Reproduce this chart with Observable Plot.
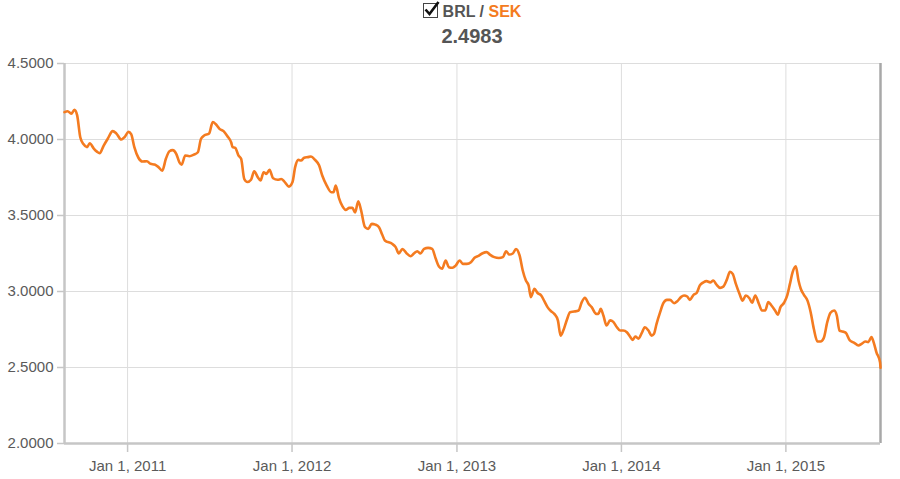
<!DOCTYPE html>
<html>
<head>
<meta charset="utf-8">
<script src="https://cdn.jsdelivr.net/npm/d3@7"></script>
<script src="https://cdn.jsdelivr.net/npm/@observablehq/plot@0.6"></script>
<style>
  html, body { margin: 0; padding: 0; background: #fff; }
  body { width: 900px; height: 479px; overflow: hidden; font-family: "Liberation Sans", Arial, sans-serif; }
  #header { position: relative; height: 55px; width: 900px; }
  #title { position: absolute; left: 0; width: 944px; top: 3px; text-align: center; font-weight: bold; font-size: 16px; color: #555; line-height: 18px; }
  #value { position: absolute; left: 0; width: 944px; top: 25px; text-align: center; font-weight: bold; font-size: 20px; color: #555; line-height: 22px; }
  .box { display: inline-block; width: 13px; height: 13px; border: 1.5px solid #444; vertical-align: -1px; margin-right: 5px; position: relative; }
  .box svg { position: absolute; left: -1px; top: -4px; }
  .sek { color: #f47b20; }
</style>
</head>
<body>
<div id="header">
  <div id="title"><span class="box"><svg width="18" height="18" viewBox="0 0 18 18"><path d="M2.5 9.5 L6.5 14 L15.5 2" fill="none" stroke="#111" stroke-width="2.6"/></svg></span>BRL / <span class="sek">SEK</span></div>
  <div id="value">2.4983</div>
</div>
<div id="chart"></div>
<script>
const dates = [
"2010-08-14","2010-08-21","2010-08-29","2010-09-05","2010-09-11","2010-09-18","2010-09-25","2010-10-03","2010-10-09","2010-10-18",
"2010-10-25","2010-10-31","2010-11-09","2010-11-18","2010-11-29","2010-12-07","2010-12-18","2010-12-25","2011-01-03","2011-01-09",
"2011-01-16","2011-01-25","2011-02-03","2011-02-13","2011-02-21","2011-03-02","2011-03-10","2011-03-19","2011-03-27","2011-04-04",
"2011-04-11","2011-04-19","2011-04-26","2011-05-01","2011-05-09","2011-05-18","2011-05-28","2011-06-06","2011-06-13","2011-06-20",
"2011-07-01","2011-07-09","2011-07-16","2011-07-24","2011-08-02","2011-08-11","2011-08-19","2011-08-22","2011-08-28","2011-09-04",
"2011-09-10","2011-09-17","2011-09-24","2011-10-02","2011-10-09","2011-10-17","2011-10-23","2011-10-30","2011-11-05","2011-11-12",
"2011-11-20","2011-11-30","2011-12-08","2011-12-15","2011-12-25","2012-01-02","2012-01-08","2012-01-15","2012-01-21","2012-01-28",
"2012-02-05","2012-02-12","2012-02-21","2012-03-01","2012-03-08","2012-03-18","2012-03-28","2012-04-02","2012-04-07","2012-04-14",
"2012-04-22","2012-04-29","2012-05-07","2012-05-14","2012-05-20","2012-05-27","2012-06-02","2012-06-11","2012-06-18","2012-06-26",
"2012-07-04","2012-07-12","2012-07-19","2012-07-25","2012-08-10","2012-08-18","2012-08-25","2012-09-02","2012-09-11","2012-09-20",
"2012-09-28","2012-10-05","2012-10-12","2012-10-20","2012-10-29","2012-11-07","2012-11-15","2012-11-22","2012-11-29","2012-12-07",
"2012-12-14","2012-12-22","2012-12-29","2013-01-07","2013-01-14","2013-01-23","2013-02-01","2013-02-09","2013-02-18","2013-02-27",
"2013-03-08","2013-03-15","2013-03-25","2013-04-04","2013-04-13","2013-04-20","2013-04-27","2013-05-05","2013-05-12","2013-05-20",
"2013-05-27","2013-06-03","2013-06-09","2013-06-14","2013-06-22","2013-06-29","2013-07-07","2013-07-14","2013-07-21","2013-07-29",
"2013-08-05","2013-08-13","2013-08-19","2013-08-25","2013-09-02","2013-09-09","2013-09-18","2013-09-28","2013-10-05","2013-10-12",
"2013-10-20","2013-10-27","2013-11-06","2013-11-11","2013-11-16","2013-11-22","2013-11-29","2013-12-07","2013-12-14","2013-12-22",
"2013-12-29","2014-01-05","2014-01-13","2014-01-20","2014-01-26","2014-02-01","2014-02-08","2014-02-15","2014-02-22","2014-03-02",
"2014-03-09","2014-03-14","2014-03-20","2014-03-28","2014-04-04","2014-04-12","2014-04-19","2014-04-28","2014-05-05","2014-05-13",
"2014-05-20","2014-05-27","2014-06-02","2014-06-10","2014-06-17","2014-06-24","2014-07-02","2014-07-09","2014-07-17","2014-07-24",
"2014-07-31","2014-08-08","2014-08-15","2014-08-23","2014-08-30","2014-09-05","2014-09-12","2014-09-20","2014-09-27","2014-10-04",
"2014-10-12","2014-10-18","2014-10-25","2014-11-02","2014-11-09","2014-11-16","2014-11-23","2014-11-30","2014-12-08","2014-12-14",
"2014-12-20","2014-12-28","2015-01-04","2015-01-10","2015-01-16","2015-01-23","2015-01-29","2015-02-03","2015-02-10","2015-02-18",
"2015-02-25","2015-03-04","2015-03-12","2015-03-19","2015-03-26","2015-04-03","2015-04-10","2015-04-18","2015-04-24","2015-04-30",
"2015-05-07","2015-05-14","2015-05-23","2015-06-01","2015-06-11","2015-06-18","2015-06-26","2015-07-03","2015-07-10","2015-07-15",
"2015-07-21","2015-07-29","2015-07-30"
];
const rates = [
4.180,4.186,4.170,4.195,4.160,4.015,3.970,3.950,3.975,3.940,
3.920,3.910,3.960,4.005,4.055,4.040,4.000,4.015,4.050,4.035,
3.950,3.880,3.855,3.857,3.840,3.835,3.820,3.795,3.873,3.923,
3.930,3.906,3.850,3.835,3.895,3.890,3.900,3.916,4.005,4.026,
4.040,4.115,4.100,4.070,4.055,4.020,3.980,3.950,3.945,3.895,
3.873,3.740,3.720,3.735,3.790,3.752,3.730,3.785,3.774,3.800,
3.745,3.735,3.740,3.723,3.690,3.720,3.820,3.866,3.862,3.880,
3.884,3.888,3.866,3.830,3.763,3.697,3.653,3.653,3.697,3.616,
3.560,3.537,3.550,3.550,3.520,3.594,3.537,3.423,3.412,3.445,
3.440,3.423,3.375,3.336,3.314,3.292,3.250,3.280,3.252,3.232,
3.252,3.265,3.250,3.280,3.287,3.280,3.215,3.164,3.150,3.204,
3.160,3.156,3.170,3.204,3.182,3.182,3.193,3.222,3.235,3.252,
3.259,3.243,3.226,3.220,3.226,3.265,3.243,3.250,3.280,3.237,
3.138,3.072,3.040,2.963,3.018,2.990,2.974,2.936,2.897,2.870,
2.853,2.810,2.710,2.743,2.814,2.864,2.868,2.875,2.930,2.959,
2.920,2.897,2.853,2.853,2.886,2.842,2.776,2.810,2.800,2.765,
2.743,2.743,2.732,2.704,2.682,2.704,2.690,2.726,2.765,2.743,
2.710,2.720,2.787,2.864,2.923,2.945,2.945,2.923,2.936,2.963,
2.974,2.967,2.945,2.978,2.990,3.040,3.060,3.068,3.060,3.072,
3.045,3.024,3.032,3.078,3.130,3.116,3.050,2.985,2.940,2.974,
2.956,2.926,2.974,2.920,2.875,2.875,2.930,2.908,2.875,2.847,
2.897,2.926,2.974,3.050,3.127,3.166,3.072,3.018,2.978,2.940,
2.864,2.755,2.671,2.671,2.693,2.800,2.860,2.875,2.842,2.743,
2.737,2.728,2.678,2.664,2.645,2.655,2.671,2.667,2.700,2.664,
2.600,2.535,2.4983
];
const yTicks = [2.0, 2.5, 3.0, 3.5, 4.0, 4.5];
const xTicks = ["2011-01-01","2012-01-01","2013-01-01","2014-01-01","2015-01-01"];

const data = dates.map((d, i) => ({date: new Date(d + "T00:00:00Z"), rate: rates[i]}));
const xDomain = [data[0].date, data[data.length - 1].date];
const xTickDates = xTicks.map(d => new Date(d + "T00:00:00Z"));

const chart = Plot.plot({
  width: 900,
  height: 424,
  marginTop: 8,
  marginBottom: 36,
  marginLeft: 64,
  marginRight: 20,
  style: {fontFamily: "'Liberation Sans', Arial, sans-serif", fontSize: "15px", color: "#555", background: "#fff"},
  x: {type: "utc", domain: xDomain, label: null},
  y: {domain: [2, 4.5], label: null},
  marks: [
    Plot.gridY(yTicks, {stroke: "#dddddd", strokeOpacity: 1, strokeWidth: 1}),
    Plot.gridX(xTickDates, {stroke: "#dddddd", strokeOpacity: 1, strokeWidth: 1}),
    Plot.axisY(yTicks, {label: null, tickFormat: d3.format(".4f"), tickSize: 7, tickPadding: 4, stroke: "#c6c6c6", fill: "#5a5a5a", fontSize: 15, strokeWidth: 1.5}),
    Plot.axisX(xTickDates, {label: null, tickFormat: d3.utcFormat("%b %-d, %Y"), tickSize: 9, tickPadding: 8, stroke: "#c6c6c6", fill: "#5a5a5a", fontSize: 15, strokeWidth: 1.5}),
    Plot.ruleX([xDomain[0]], {stroke: "#c6c6c6", strokeWidth: 2.5}),
    Plot.ruleX([xDomain[1]], {stroke: "#a8a8a8", strokeWidth: 2.5}),
    Plot.ruleY([2], {stroke: "#c6c6c6", strokeWidth: 2.5}),
    Plot.lineY(data, {x: "date", y: "rate", stroke: "#f47b20", strokeWidth: 2.6, curve: "monotone-x"})
  ]
});
document.getElementById("chart").appendChild(chart);
</script>
</body>
</html>
